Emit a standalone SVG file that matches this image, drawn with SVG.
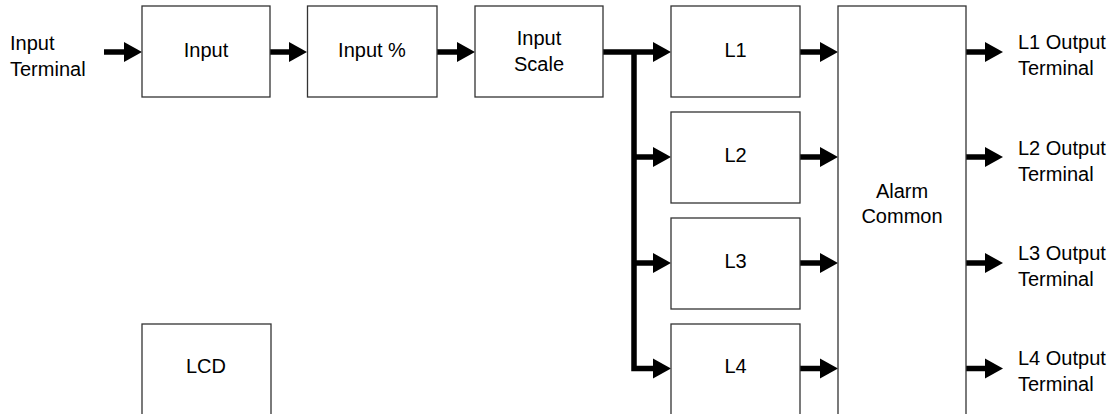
<svg xmlns="http://www.w3.org/2000/svg" width="1118" height="414" viewBox="0 0 1118 414">
  <style>
    .box { fill: #ffffff; stroke: #333333; stroke-width: 1.3; }
    .label { font-family: "Liberation Sans", Arial, Helvetica, sans-serif; font-size: 20px; fill: #000000; }
    .mid { text-anchor: middle; }
    .wire { fill: none; stroke: #000000; stroke-width: 5.5; stroke-linejoin: miter; stroke-linecap: butt; }
    .head { fill: #000000; stroke: none; }
  </style>
  <defs>
    <!-- arrowhead with its tip at the origin, pointing right -->
    <polygon id="ah" class="head" points="0,0 -18,-10 -18,10"/>
  </defs>
  <rect width="1118" height="414" fill="#ffffff"/>

  <!-- connectors -->
  <g id="connectors">
    <!-- input chain -->
    <line class="wire" x1="104" y1="52" x2="126" y2="52"/>
    <use href="#ah" x="142" y="52"/>
    <line class="wire" x1="270" y1="52" x2="291" y2="52"/>
    <use href="#ah" x="307" y="52"/>
    <line class="wire" x1="437" y1="52" x2="459" y2="52"/>
    <use href="#ah" x="475" y="52"/>
    <line class="wire" x1="603" y1="52" x2="655" y2="52"/>
    <use href="#ah" x="671" y="52"/>
    <!-- fan-out bus to L2..L4 -->
    <path class="wire" d="M634,52 V368.5 H655"/>
    <line class="wire" x1="634" y1="157" x2="655" y2="157"/>
    <use href="#ah" x="671" y="157"/>
    <line class="wire" x1="634" y1="263" x2="655" y2="263"/>
    <use href="#ah" x="671" y="263"/>
    <use href="#ah" x="671" y="368.5"/>
    <!-- L1..L4 into alarm common -->
    <line class="wire" x1="800" y1="52" x2="822" y2="52"/>
    <use href="#ah" x="838" y="52"/>
    <line class="wire" x1="800" y1="157" x2="822" y2="157"/>
    <use href="#ah" x="838" y="157"/>
    <line class="wire" x1="800" y1="263" x2="822" y2="263"/>
    <use href="#ah" x="838" y="263"/>
    <line class="wire" x1="800" y1="368.5" x2="822" y2="368.5"/>
    <use href="#ah" x="838" y="368.5"/>
    <!-- outputs -->
    <line class="wire" x1="966" y1="52" x2="987" y2="52"/>
    <use href="#ah" x="1003" y="52"/>
    <line class="wire" x1="966" y1="157" x2="987" y2="157"/>
    <use href="#ah" x="1003" y="157"/>
    <line class="wire" x1="966" y1="263" x2="987" y2="263"/>
    <use href="#ah" x="1003" y="263"/>
    <line class="wire" x1="966" y1="368.5" x2="987" y2="368.5"/>
    <use href="#ah" x="1003" y="368.5"/>
  </g>

  <g id="input-terminal">
    <text class="label" x="10" y="50">Input</text>
    <text class="label" x="10" y="76">Terminal</text>
  </g>

  <g id="input">
    <rect class="box" x="142" y="6" width="128" height="91"/>
    <text class="label mid" x="206" y="57">Input</text>
  </g>

  <g id="input-percent">
    <rect class="box" x="307.5" y="6" width="129.5" height="91"/>
    <text class="label mid" x="372" y="57">Input %</text>
  </g>

  <g id="input-scale">
    <rect class="box" x="475" y="6" width="128" height="91"/>
    <text class="label mid" x="539" y="45">Input</text>
    <text class="label mid" x="539" y="71">Scale</text>
  </g>

  <g id="l1">
    <rect class="box" x="671" y="6" width="129" height="91"/>
    <text class="label mid" x="735.5" y="57">L1</text>
  </g>

  <g id="l2">
    <rect class="box" x="671" y="112" width="129" height="91"/>
    <text class="label mid" x="735.5" y="162">L2</text>
  </g>

  <g id="l3">
    <rect class="box" x="671" y="218" width="129" height="91"/>
    <text class="label mid" x="735.5" y="268">L3</text>
  </g>

  <g id="l4">
    <rect class="box" x="671" y="324" width="129" height="100"/>
    <text class="label mid" x="735.5" y="373">L4</text>
  </g>

  <g id="alarm-common">
    <rect class="box" x="838" y="6" width="128" height="420"/>
    <text class="label mid" x="902" y="198">Alarm</text>
    <text class="label mid" x="902" y="223">Common</text>
  </g>

  <g id="lcd">
    <rect class="box" x="142" y="324" width="129" height="100"/>
    <text class="label mid" x="206" y="373">LCD</text>
  </g>

  <g id="l1-output">
    <text class="label" x="1018" y="49">L1 Output</text>
    <text class="label" x="1018" y="75">Terminal</text>
  </g>
  <g id="l2-output">
    <text class="label" x="1018" y="155">L2 Output</text>
    <text class="label" x="1018" y="181">Terminal</text>
  </g>
  <g id="l3-output">
    <text class="label" x="1018" y="260">L3 Output</text>
    <text class="label" x="1018" y="286">Terminal</text>
  </g>
  <g id="l4-output">
    <text class="label" x="1018" y="365">L4 Output</text>
    <text class="label" x="1018" y="391">Terminal</text>
  </g>
</svg>
